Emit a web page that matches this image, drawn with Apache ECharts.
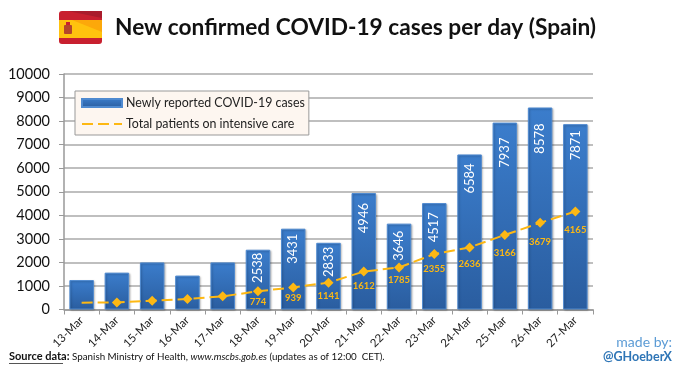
<!DOCTYPE html>
<html><head><meta charset="utf-8">
<style>html,body{margin:0;padding:0;background:#fff}#c{width:680px;height:368px}</style>
<script src="https://cdn.jsdelivr.net/npm/echarts@6/dist/echarts.min.js"></script>
</head><body><div id="c"></div>
<script>
var categories=['13-Mar','14-Mar','15-Mar','16-Mar','17-Mar','18-Mar','19-Mar','20-Mar','21-Mar','22-Mar','23-Mar','24-Mar','25-Mar','26-Mar','27-Mar'];
var newCases=[1250,1565,2000,1440,2000,2538,3431,2833,4946,3646,4517,6584,7937,8578,7871];
var icuPatients=[290,300,375,447,560,774,939,1141,1612,1785,2355,2636,3166,3679,4165];
var firstLabelled=5;
var barLabelGaps=[0,0,0,0,0,3,5,4,10,7,9,9,15,16,6];
var lineLabelGaps=[0,0,0,0,0,1,1,3,4,2,5,7,8,9,9];
var FONT='Lato, "Noto Sans", sans-serif';
var chart=echarts.init(document.getElementById('c'),null,{renderer:'canvas'});
var gold='#fdb813';
chart.setOption({
  animation:false,
  textStyle:{fontFamily:FONT},
  title:{text:'New confirmed COVID-19 cases per day (Spain)',left:115,top:16,padding:0,
    textStyle:{fontFamily:FONT,fontSize:22.7,fontWeight:'bold',color:'#111'}},
  grid:{left:64,right:87,top:74,bottom:58.5,containLabel:false},
  legend:{orient:'vertical',left:75,top:91,padding:[6,4,5,6],itemGap:9,itemWidth:40,itemHeight:8,
    backgroundColor:'#fdf6f0',borderColor:'#999',borderWidth:1,
    textStyle:{fontFamily:FONT,fontSize:12.4,color:'#222',padding:[0,0,0,-1]},
    data:[{name:'Newly reported COVID-19 cases',icon:'rect'},
      {name:'Total patients on intensive care',itemStyle:{opacity:0}}]},
  xAxis:{type:'category',data:categories,
    axisLine:{lineStyle:{color:'#999',width:1.5}},
    axisTick:{show:true,length:5,alignWithLabel:false,lineStyle:{color:'#999'}},
    axisLabel:{rotate:45,fontSize:11.5,color:'#222',margin:9,interval:0,fontFamily:FONT}},
  yAxis:{type:'value',min:0,max:10000,interval:1000,
    axisLine:{show:true,lineStyle:{color:'#999',width:1.5}},
    axisTick:{show:true,length:5,lineStyle:{color:'#999'}},
    axisLabel:{fontSize:14.5,color:'#111',margin:14,fontFamily:FONT,formatter:function(v){return String(v);}},
    splitLine:{lineStyle:{color:'#aaa',width:1.5}}},
  series:[
    {name:'Newly reported COVID-19 cases',type:'bar',barWidth:24.5,
      itemStyle:{color:new echarts.graphic.LinearGradient(0,0,0,1,[{offset:0,color:'#3b7dcc'},{offset:1,color:'#2a5d9f'}]),
        borderColor:'#4f8ad0',borderWidth:1,shadowColor:'rgba(0,0,0,0.25)',shadowBlur:2,shadowOffsetX:1,shadowOffsetY:1},
      data:newCases.map(function(v,i){
        return {value:v,label:{show:i>=firstLabelled,position:'insideTop',rotate:90,distance:barLabelGaps[i],align:'right',verticalAlign:'middle',fontSize:13,color:'#fff',fontFamily:FONT}};
      })},
    {name:'Total patients on intensive care',type:'line',symbol:'diamond',symbolSize:10,z:5,
      lineStyle:{color:gold,width:2,type:[11,5]},itemStyle:{color:gold},
      data:icuPatients.map(function(v,i){
        return {value:v,symbol:i===0?'none':'diamond',label:{show:i>=firstLabelled,position:'bottom',distance:lineLabelGaps[i],fontSize:9.5,fontWeight:'bold',color:gold,fontFamily:FONT}};
      })}
  ],
  graphic:[
    {type:'rect',shape:{x:59,y:11,width:43,height:33,r:3},style:{fill:'#c8202f'}},
    {type:'rect',shape:{x:59,y:20,width:43,height:18},style:{fill:'#ffc20e'}},
    {type:'polygon',shape:{points:[[72,20],[102,20],[102,32]]},style:{fill:'#fca80a'}},
    {type:'polygon',shape:{points:[[68,11],[102,11],[102,18]]},style:{fill:'#a91c2c'}},
    {type:'rect',shape:{x:64,y:25,width:8,height:9,r:1},style:{fill:'#b5452a'}},
    {type:'rect',shape:{x:66,y:22,width:4,height:3},style:{fill:'#c8202f'}},
    {type:'text',style:{x:9,y:351,text:'{b|Source data:} Spanish Ministry of Health, {i|www.mscbs.gob.es} (updates as of 12:00  CET).',
      fontFamily:FONT,fontSize:9.8,fill:'#111',
      rich:{b:{fontWeight:'bold',fontFamily:FONT,fontSize:11,fill:'#111'},i:{fontStyle:'italic',fontFamily:FONT,fontSize:9.8,fill:'#111'}}}},
    {type:'rect',shape:{x:9,y:363,width:54,height:1},style:{fill:'#555'}},
    {type:'text',style:{x:672,y:335,text:'made by:',fontFamily:FONT,fontSize:14,fill:'#5b9bd5',align:'right'}},
    {type:'text',style:{x:672,y:350,text:'@GHoeberX',fontFamily:FONT,fontSize:12.5,fontWeight:'bold',fill:'#2e75b6',align:'right'}}
  ]
});
</script></body></html>
